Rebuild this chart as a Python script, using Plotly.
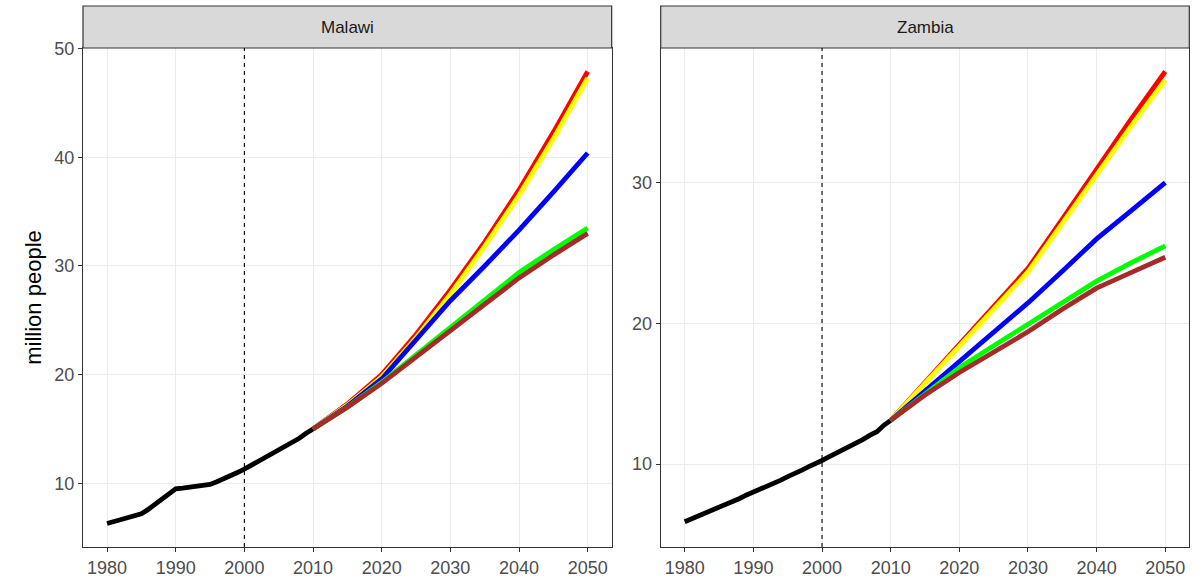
import plotly.graph_objects as go

# ---------------- data ----------------
hist_years = list(range(1980, 2011))
malawi_hist = [6.3, 6.5, 6.7, 6.9, 7.05, 7.2, 7.6, 8.1, 8.6, 9.1, 9.5,
               9.55, 9.65, 9.7, 9.8, 9.9, 10.15, 10.4, 10.7, 11.0, 11.3,
               11.65, 11.95, 12.3, 12.65, 13.0, 13.35, 13.75, 14.15, 14.6, 15.0]
zambia_hist = [5.9, 6.1, 6.3, 6.5, 6.7, 6.93, 7.15, 7.35, 7.55, 7.8, 8.0,
               8.2, 8.4, 8.6, 8.85, 9.1, 9.3, 9.55, 9.8, 10.0, 10.25,
               10.5, 10.75, 11.0, 11.2, 11.45, 11.75, 12.05, 12.3, 12.75, 13.1]

proj_years = [2010, 2015, 2020, 2025, 2030, 2035, 2040, 2045, 2050]
scenario_names = ["red", "yellow", "blue", "green", "brown"]
scenario_colors = ["#FF0000", "#FFFF00", "#0000FF", "#00FF00", "#A52A2A"]

malawi_proj = {
    "red":    [15.0, 17.3, 20.0, 23.7, 27.8, 32.2, 37.0, 42.3, 47.9],
    "yellow": [15.0, 17.2, 19.8, 23.4, 27.4, 31.8, 36.5, 41.7, 47.3],
    "blue":   [15.0, 17.1, 19.6, 23.2, 26.8, 30.0, 33.3, 36.8, 40.4],
    "green":  [15.0, 17.0, 19.3, 21.8, 24.3, 26.9, 29.4, 31.5, 33.5],
    "brown":  [15.0, 17.0, 19.2, 21.6, 24.0, 26.5, 28.9, 31.0, 33.0],
}
zambia_proj = {
    "red":    [13.1, 15.8, 18.6, 21.2, 23.9, 27.4, 31.0, 34.5, 37.9],
    "yellow": [13.1, 15.7, 18.4, 21.0, 23.65, 27.1, 30.6, 34.0, 37.3],
    "blue":   [13.1, 15.2, 17.3, 19.4, 21.45, 23.7, 26.0, 28.0, 30.0],
    "green":  [13.1, 15.0, 16.85, 18.4, 19.9, 21.5, 23.0, 24.3, 25.5],
    "brown":  [13.1, 14.9, 16.5, 18.0, 19.4, 21.0, 22.5, 23.6, 24.7],
}

panels = ["Malawi", "Zambia"]
x_ticks = [1980, 1990, 2000, 2010, 2020, 2030, 2040, 2050]
malawi_yticks = [10, 20, 30, 40, 50]
zambia_yticks = [10, 20, 30]
cutoff_year = 2000

# ---------------- figure ----------------
fig = go.Figure()
LW = 4.8
FONT = "Liberation Sans, Arial, sans-serif"

for i, (hist, proj) in enumerate([(malawi_hist, malawi_proj), (zambia_hist, zambia_proj)]):
    xa = "x" if i == 0 else "x2"
    ya = "y" if i == 0 else "y2"
    fig.add_trace(go.Scatter(x=hist_years, y=hist, mode="lines",
                             line=dict(color="#000000", width=LW),
                             xaxis=xa, yaxis=ya, showlegend=False))
    for name, col in zip(scenario_names, scenario_colors):
        fig.add_trace(go.Scatter(x=proj_years, y=proj[name], mode="lines",
                                 line=dict(color=col, width=LW),
                                 xaxis=xa, yaxis=ya, showlegend=False))

W, H = 1204, 582
xdom1 = [83 / W, 611.7 / W]
xdom2 = [660.7 / W, 1189.3 / W]
ydom = [(H - 547) / H, (H - 48) / H]
strip = [(H - 48) / H, (H - 6) / H]

TICKFONT = dict(size=18, color="#4D4D4D", family=FONT)
common_x = dict(range=[1976.5, 2053.5], tickvals=x_ticks, showgrid=True,
                gridcolor="#EBEBEB", gridwidth=1, showline=True, linecolor="#333333",
                linewidth=1.2, mirror=True, ticks="outside", ticklen=4, tickwidth=1.1,
                tickcolor="#333333", tickfont=TICKFONT,
                zeroline=False, automargin=False)
common_y = dict(showgrid=True, gridcolor="#EBEBEB", gridwidth=1, showline=True,
                linecolor="#333333", linewidth=1.2, mirror=True, ticks="outside",
                ticklen=4, tickwidth=1.1, tickcolor="#333333", tickfont=TICKFONT,
                zeroline=False, automargin=False)

fig.update_layout(
    width=W, height=H,
    margin=dict(l=0, r=0, t=0, b=0),
    paper_bgcolor="white", plot_bgcolor="white",
    font=dict(family=FONT),
    xaxis=dict(domain=xdom1, anchor="y", **common_x),
    xaxis2=dict(domain=xdom2, anchor="y2", **common_x),
    yaxis=dict(domain=ydom, anchor="x", range=[4.14, 50.06], tickvals=malawi_yticks,
               title=dict(text="million people", font=dict(size=22, color="#000000", family=FONT),
                          standoff=6), **common_y),
    yaxis2=dict(domain=ydom, anchor="x2", range=[4.10, 39.57], tickvals=zambia_yticks, **common_y),
    showlegend=False,
)

shapes = []
annotations = []
for i, (dom, name) in enumerate(zip([xdom1, xdom2], panels)):
    shapes.append(dict(type="rect", xref="paper", yref="paper", x0=dom[0], x1=dom[1],
                       y0=strip[0], y1=strip[1], fillcolor="#D9D9D9",
                       line=dict(color="#333333", width=1.2), layer="above"))
    annotations.append(dict(text=name, xref="paper", yref="paper",
                            x=(dom[0] + dom[1]) / 2, y=(strip[0] + strip[1]) / 2,
                            showarrow=False, font=dict(size=17, color="#1A1A1A", family=FONT),
                            xanchor="center", yanchor="middle"))
    xa = "x" if i == 0 else "x2"
    ya = "y" if i == 0 else "y2"
    shapes.append(dict(type="line", xref=xa, yref=f"{ya} domain", x0=cutoff_year, x1=cutoff_year,
                       y0=0, y1=1, line=dict(color="#000000", width=1.1, dash="4px,4px"),
                       layer="above"))

fig.update_layout(shapes=shapes, annotations=annotations)
fig.write_html("out.html", config={"displayModeBar": False},
               post_script="document.body.style.margin='0';")
